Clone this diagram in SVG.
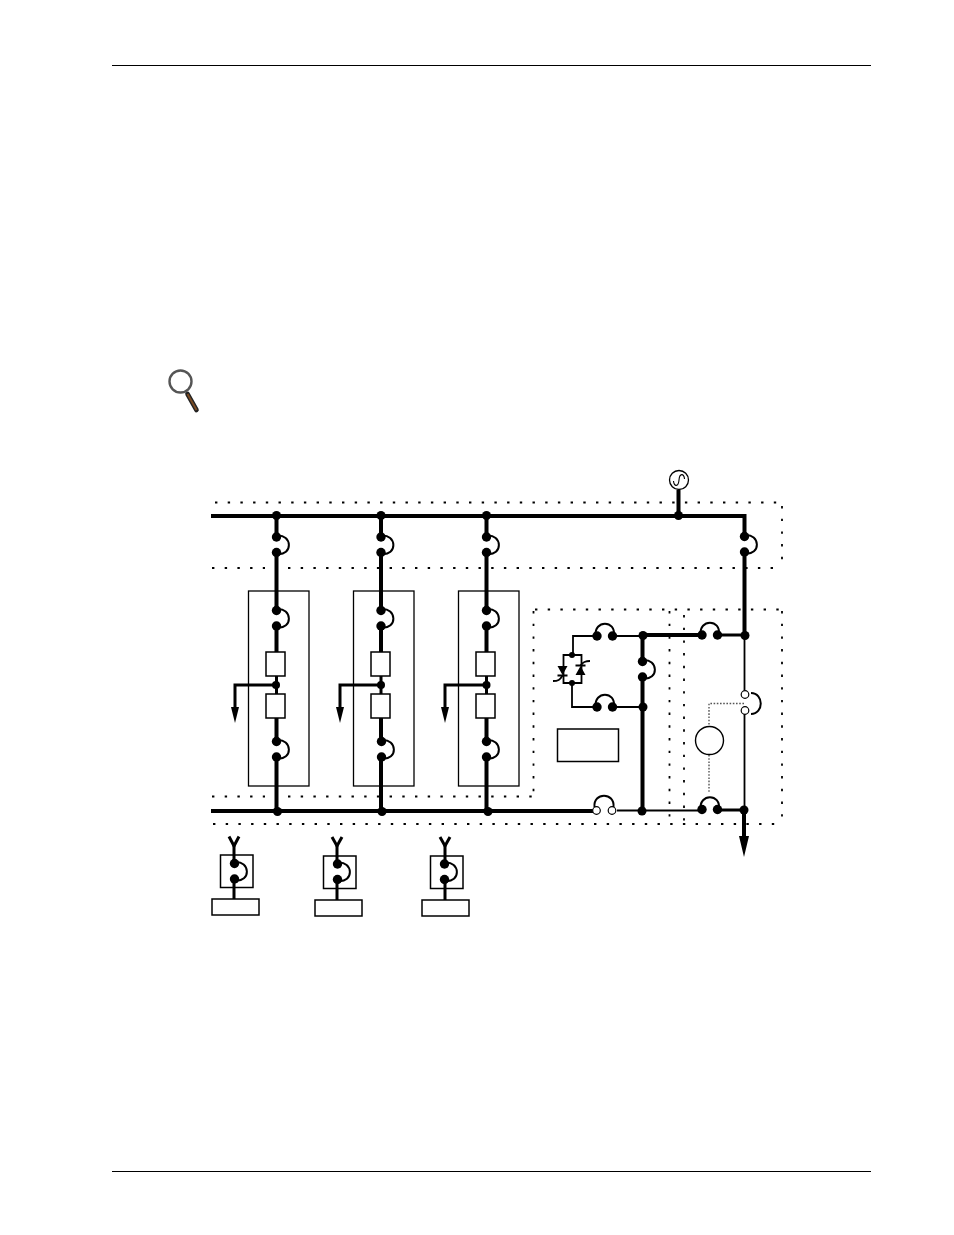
<svg xmlns="http://www.w3.org/2000/svg" xmlns:xlink="http://www.w3.org/1999/xlink" width="954" height="1235" viewBox="0 0 954 1235">
<style>
.t{fill:none;stroke:#000;stroke-width:4}
.m{fill:none;stroke:#000;stroke-width:3}
.n{fill:none;stroke:#000;stroke-width:1.8}
.h{fill:none;stroke:#000;stroke-width:1.3}
.b{fill:#fff;stroke:#000;stroke-width:1.5}
.d{fill:none;stroke:#000;stroke-width:1.8;stroke-dasharray:2.4 10.3}
.g{fill:none;stroke:#555;stroke-width:1.4;stroke-dasharray:1.6 1.6}
.j{fill:#000}
.o{fill:#fff;stroke:#000;stroke-width:1.2}
.a{fill:none;stroke:#000;stroke-width:2}
</style>
<defs>
<g id="fv"><circle class="j" cx="0" cy="0" r="4.7"/><circle class="j" cx="0" cy="15.5" r="4.7"/><path class="a" d="M0 -1.5C16 -3 17 19 0 17"/></g>
<g id="fh"><circle class="j" cx="0" cy="0" r="4.7"/><circle class="j" cx="15.5" cy="0" r="4.7"/><path class="a" d="M-1.5 0C-3 -16.5 19 -16.5 17 0"/></g>
</defs>
<rect width="954" height="1235" fill="#fff"/>
<g id="page-rules"><path d="M112 65.5H871M112 1171.5H871" stroke="#000" stroke-width="1" fill="none"/></g>
<g id="magnifier">
<path d="M187.5 394L196.5 410" stroke="#222" stroke-width="4.6" stroke-linecap="round" fill="none"/>
<path d="M187.5 394L196.5 410" stroke="#7a4a22" stroke-width="2" fill="none"/>
<circle cx="180.5" cy="381.5" r="11" fill="#fff" stroke="#555" stroke-width="2.4"/>
</g>
<g id="zones">
<path class="d" d="M215 502.5H782"/>
<path class="d" d="M782 506V568"/>
<path class="d" d="M212 568H265M288 568H782"/>
<path class="d" d="M212 796.5H265M288 796.5H533"/>
<path class="d" d="M213 824H782"/>
<path class="d" d="M533.5 611V792"/>
<path class="d" d="M535 609.5H782"/>
<path class="d" d="M669.5 611V824"/>
<path class="d" d="M684 615V824"/>
<path class="d" d="M782 611V824"/>
</g>
<g id="connectors">
<path class="t" d="M211 516H744.5V537M744.5 552V636M678.5 516V490"/>
<path class="t" d="M276.5 516V537M276.5 552V610M276.5 626V652M276.5 718V741M276.5 757V811"/>
<path class="t" d="M381 516V537M381 552V610M381 626V652M381 718V741M381 757V811"/>
<path class="t" d="M486.5 516V537M486.5 552V610M486.5 626V652M486.5 718V741M486.5 757V811"/>
<path class="m" d="M276.5 676V694M381 676V694M486.5 676V694"/>
<path class="m" d="M276.5 685H235V708M381 685H340V708M486.5 685H445V708"/>
<path class="t" d="M211 811H597"/>
<path class="t" d="M642.5 635V661M642.5 677V811M642.5 635H702"/>
<path class="m" d="M718 635H745M716 810H744"/>
<path class="t" d="M744 810V836"/>
<path class="n" d="M617 810.5H702M612 636H643M612 707H643M597 636H573V655M572 683V707H597M744.5 636V690M744.5 714V810"/>
<path class="n" d="M563.5 655H581.5V683H563.5Z"/>
<path class="g" d="M744 703.5H709V726M709 755V792"/>
<path class="m" d="M234 845V863M234 879V899M337 845V863M337 879V900M445 845V863M445 879V900"/>
<path class="m" d="M229 836.5L234 846L239 836.5M332 837L337 846L342 837M440 837L445 846L450 837"/>
<path class="j" d="M231 707H239L235 723ZM336 707H344L340 723ZM441 707H449L445 723ZM739 836H749L744 857Z"/>
</g>
<g id="module-1"><rect class="h" x="248.5" y="591" width="60.5" height="195"/><rect class="b" x="266" y="652" width="19" height="24"/><rect class="b" x="266" y="694" width="19" height="24"/><use xlink:href="#fv" href="#fv" x="276.5" y="610.5"/><use xlink:href="#fv" href="#fv" x="276.5" y="741.5"/><circle class="j" cx="276" cy="685" r="4"/></g>
<g id="module-2"><rect class="h" x="353.5" y="591" width="60.5" height="195"/><rect class="b" x="371" y="652" width="19" height="24"/><rect class="b" x="371" y="694" width="19" height="24"/><use xlink:href="#fv" href="#fv" x="381" y="610.5"/><use xlink:href="#fv" href="#fv" x="381.5" y="741.5"/><circle class="j" cx="381" cy="685" r="4"/></g>
<g id="module-3"><rect class="h" x="458.5" y="591" width="60.5" height="195"/><rect class="b" x="476" y="652" width="19" height="24"/><rect class="b" x="476" y="694" width="19" height="24"/><use xlink:href="#fv" href="#fv" x="486.5" y="610.5"/><use xlink:href="#fv" href="#fv" x="486.5" y="741.5"/><circle class="j" cx="486.5" cy="685" r="4"/></g>
<g id="source"><circle cx="679" cy="480" r="9.5" fill="#fff" stroke="#000" stroke-width="1.3"/><path d="M673.5 481C674 487 678.5 487 679 480C679.5 473 684 473 684.5 479" fill="none" stroke="#000" stroke-width="1.1"/></g>
<g id="input-breakers">
<use xlink:href="#fv" href="#fv" x="276.5" y="537"/>
<use xlink:href="#fv" href="#fv" x="381" y="537"/>
<use xlink:href="#fv" href="#fv" x="486.5" y="537"/>
<use xlink:href="#fv" href="#fv" x="744.5" y="536.5"/>
</g>
<g id="junctions">
<circle class="j" cx="276.5" cy="515.5" r="4.5"/><circle class="j" cx="381" cy="515.5" r="4.5"/><circle class="j" cx="486.5" cy="515.5" r="4.5"/><circle class="j" cx="678.5" cy="515.5" r="4.5"/>
<circle class="j" cx="277.5" cy="811.5" r="4.5"/><circle class="j" cx="382" cy="811.5" r="4.5"/><circle class="j" cx="488" cy="811.5" r="4.5"/>
<circle class="j" cx="643" cy="635.5" r="4.5"/><circle class="j" cx="643" cy="707" r="4.5"/><circle class="j" cx="642" cy="811" r="4.5"/><circle class="j" cx="745" cy="635.5" r="4.5"/><circle class="j" cx="744" cy="810" r="4.5"/>
</g>
<g id="static-switch">
<use xlink:href="#fh" href="#fh" x="597" y="636"/>
<use xlink:href="#fh" href="#fh" x="597" y="707"/>
<use xlink:href="#fv" href="#fv" x="642.5" y="661.5"/>
<circle class="j" cx="572" cy="655" r="3"/><circle class="j" cx="572" cy="683" r="3"/>
<path class="j" d="M557.5 666H567.5L562.5 675ZM575.5 675H585.5L580.5 666Z"/>
<path class="n" d="M557.5 675.5H567.5M575.5 665.5H585.5"/>
<path class="n" d="M553 681C558 681 560 680 562.5 675.5M590 661C585 661 583 662 580.5 665.5"/>
</g>
<g id="control-box"><rect class="b" x="557.5" y="729" width="61" height="32.5"/></g>
<g id="output-breaker"><use xlink:href="#fh" href="#fh" x="702" y="635"/></g>
<g id="bypass-breaker"><use xlink:href="#fh" href="#fh" x="702" y="809.5"/></g>
<g id="tie-switch">
<path class="a" d="M594.5 807C593 792 615 792 613.5 807"/>
<circle class="o" cx="596.5" cy="810.5" r="3.8"/><circle class="o" cx="612" cy="810.5" r="3.8"/>
</g>
<g id="maintenance-switch">
<path class="a" d="M751 693C764 693 764 714 751 714"/>
<circle class="o" cx="745" cy="694.5" r="3.8"/><circle class="o" cx="745" cy="710.5" r="3.8"/>
</g>
<g id="motor"><circle cx="709.5" cy="740.5" r="14" fill="#fff" stroke="#000" stroke-width="1.4"/></g>
<g id="aux-1"><rect class="b" x="220.5" y="855" width="32.5" height="32.5"/><path class="m" d="M234 855V863M234 879V887"/><use xlink:href="#fv" href="#fv" x="234.5" y="863.5"/><rect class="b" x="212" y="899" width="47" height="16"/></g>
<g id="aux-2"><rect class="b" x="323.5" y="856" width="32.5" height="32.5"/><path class="m" d="M337 856V863M337 879V888"/><use xlink:href="#fv" href="#fv" x="337.5" y="864"/><rect class="b" x="315" y="900" width="47" height="16"/></g>
<g id="aux-3"><rect class="b" x="430.5" y="856" width="32.5" height="32.5"/><path class="m" d="M445 856V863M445 879V888"/><use xlink:href="#fv" href="#fv" x="444.5" y="864"/><rect class="b" x="422" y="900" width="47" height="16"/></g>
</svg>
